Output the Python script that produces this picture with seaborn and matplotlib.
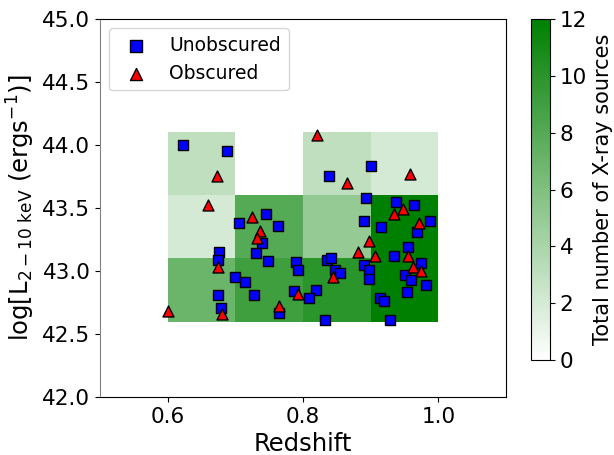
import numpy as np
import matplotlib
matplotlib.use("Agg")
import matplotlib.pyplot as plt
import seaborn as sns
from matplotlib.colors import LinearSegmentedColormap

# Fuentes / estilo
plt.rcParams['font.family'] = ['DejaVu Sans']
plt.rcParams['mathtext.default'] = 'regular'

# Datos
unobs_z = [0.622, 0.688, 0.706, 0.745, 0.763, 0.739, 0.676, 0.730, 0.675, 0.748,
           0.789, 0.793, 0.699, 0.714, 0.675, 0.728, 0.786, 0.679, 0.765, 0.901,
           0.838, 0.893, 0.937, 0.964, 0.890, 0.988, 0.916, 0.968, 0.934, 0.955,
           0.975, 0.951, 0.960, 0.982, 0.953, 0.914, 0.920, 0.928, 0.890, 0.897,
           0.897, 0.835, 0.841, 0.847, 0.854, 0.819, 0.809, 0.832]
unobs_lx = [44.00, 43.95, 43.38, 43.45, 43.36, 43.22, 43.15, 43.14, 43.09, 43.08,
            43.075, 43.01, 42.95, 42.91, 42.81, 42.81, 42.84, 42.71, 42.67, 43.83,
            43.75, 43.58, 43.55, 43.52, 43.40, 43.40, 43.35, 43.31, 43.12, 43.19,
            43.06, 42.97, 42.93, 42.89, 42.83, 42.79, 42.76, 42.61, 43.05, 43.01,
            42.94, 43.09, 43.10, 43.01, 42.985, 42.85, 42.79, 42.61]

obs_z = [0.660, 0.673, 0.725, 0.736, 0.732, 0.674, 0.793, 0.680, 0.600, 0.764,
         0.820, 0.865, 0.958, 0.948, 0.935, 0.971, 0.898, 0.882, 0.906, 0.955,
         0.962, 0.974, 0.844]
obs_lx = [43.52, 43.75, 43.43, 43.32, 43.265, 43.035, 42.82, 42.66, 42.68, 42.72,
          44.08, 43.70, 43.77, 43.49, 43.45, 43.38, 43.24, 43.15, 43.12, 43.12,
          43.03, 43.00, 42.95]

z_edges = [0.6, 0.7, 0.8, 0.9, 1.0]
lx_edges = [42.6, 43.1, 43.6, 44.1]
# numero total de fuentes por celda (filas = bins de luminosidad)
counts = [[7, 9, 10, 12],
          [2, 8, 5, 12],
          [3, 0, 3, 2]]

cmap = LinearSegmentedColormap.from_list('wg', ['white', 'green'])

fig = plt.figure(figsize=(6.14, 4.55), dpi=100)
ax = fig.add_axes([0.163, 0.127, 0.661, 0.832])
cax = fig.add_axes([0.865, 0.209, 0.031, 0.749])

mesh = ax.pcolormesh(z_edges, lx_edges, np.array(counts), cmap=cmap, vmin=0, vmax=12)

sns.scatterplot(x=unobs_z, y=unobs_lx, marker='s', color='blue', edgecolor='black',
                linewidth=1, s=62, label='Unobscured', ax=ax, zorder=3)
sns.scatterplot(x=obs_z, y=obs_lx, marker='^', color='red', edgecolor='black',
                linewidth=1, s=62, label='Obscured', ax=ax, zorder=3)

ax.set_xlim(0.5, 1.1)
ax.set_ylim(42.0, 45.0)
ax.set_xticks([0.6, 0.8, 1.0])
ax.set_yticks(np.arange(42.0, 45.01, 0.5))
ax.yaxis.set_major_formatter(lambda v, _: f'{v:.1f}')
ax.tick_params(labelsize=15.5)
ax.spines['left'].set_color('gray')
ax.set_xlabel('Redshift', fontsize=17.5)
ax.set_ylabel(r'log[L$_{2-10\ \mathrm{keV}}$ (ergs$^{-1}$)]', fontsize=17.5)
ax.legend(loc='upper left', fontsize=13.5, markerscale=1.1)

cb = fig.colorbar(mesh, cax=cax)
cb.set_ticks(range(0, 13, 2))
cb.ax.tick_params(labelsize=15.5)
cb.set_label('Total number of X-ray sources', fontsize=15)

fig.savefig('out.png', dpi=100)
